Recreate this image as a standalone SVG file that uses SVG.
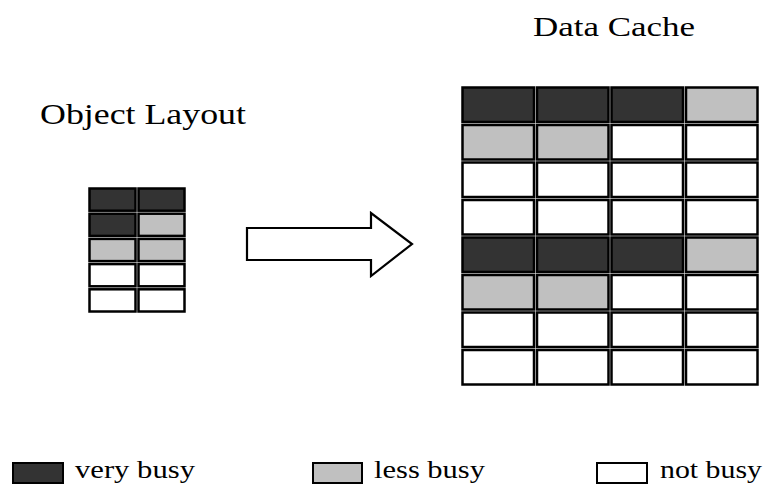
<svg xmlns="http://www.w3.org/2000/svg" width="767" height="487" viewBox="0 0 767 487">
<style>
  .t { font-family: "Liberation Serif", "Times New Roman", serif; fill: #000; }
  .c { stroke: #000; stroke-width: 2.5; }
  .d { fill: #333333; }
  .g { fill: #c0c0c0; }
  .w { fill: #ffffff; }
  .lg { stroke: #000; stroke-width: 2; }
</style>
<rect width="767" height="487" fill="#fff"/>

<g id="object-layout">
  <text class="t" x="40" y="124" font-size="29" textLength="206" lengthAdjust="spacingAndGlyphs">Object Layout</text>
  <g id="obj-grid">
    <rect class="c d" x="89.5" y="188.5" width="46" height="22.2"/>
    <rect class="c d" x="138.5" y="188.5" width="46" height="22.2"/>
    <rect class="c d" x="89.5" y="213.7" width="46" height="22.2"/>
    <rect class="c g" x="138.5" y="213.7" width="46" height="22.2"/>
    <rect class="c g" x="89.5" y="238.9" width="46" height="22.2"/>
    <rect class="c g" x="138.5" y="238.9" width="46" height="22.2"/>
    <rect class="c w" x="89.5" y="264.1" width="46" height="22.2"/>
    <rect class="c w" x="138.5" y="264.1" width="46" height="22.2"/>
    <rect class="c w" x="89.5" y="289.3" width="46" height="22.2"/>
    <rect class="c w" x="138.5" y="289.3" width="46" height="22.2"/>
  </g>
</g>

<g id="connectors">
  <path id="arrow" d="M247,228 L371,228 L371,213 L412,244 L371,276 L371,260 L247,260 Z" fill="#fff" stroke="#000" stroke-width="2.2" stroke-linejoin="miter"/>
</g>

<g id="data-cache">
  <text class="t" x="533" y="36" font-size="27" textLength="162" lengthAdjust="spacingAndGlyphs">Data Cache</text>
  <g id="cache-grid">
    <!-- row 1 -->
    <rect class="c d" x="462.5" y="87.5" width="71.5" height="34.5"/>
    <rect class="c d" x="537" y="87.5" width="71.5" height="34.5"/>
    <rect class="c d" x="611.5" y="87.5" width="71.5" height="34.5"/>
    <rect class="c g" x="686" y="87.5" width="71.5" height="34.5"/>
    <!-- row 2 -->
    <rect class="c g" x="462.5" y="125" width="71.5" height="34.5"/>
    <rect class="c g" x="537" y="125" width="71.5" height="34.5"/>
    <rect class="c w" x="611.5" y="125" width="71.5" height="34.5"/>
    <rect class="c w" x="686" y="125" width="71.5" height="34.5"/>
    <!-- row 3 -->
    <rect class="c w" x="462.5" y="162.5" width="71.5" height="34.5"/>
    <rect class="c w" x="537" y="162.5" width="71.5" height="34.5"/>
    <rect class="c w" x="611.5" y="162.5" width="71.5" height="34.5"/>
    <rect class="c w" x="686" y="162.5" width="71.5" height="34.5"/>
    <!-- row 4 -->
    <rect class="c w" x="462.5" y="200" width="71.5" height="34.5"/>
    <rect class="c w" x="537" y="200" width="71.5" height="34.5"/>
    <rect class="c w" x="611.5" y="200" width="71.5" height="34.5"/>
    <rect class="c w" x="686" y="200" width="71.5" height="34.5"/>
    <!-- row 5 -->
    <rect class="c d" x="462.5" y="237.5" width="71.5" height="34.5"/>
    <rect class="c d" x="537" y="237.5" width="71.5" height="34.5"/>
    <rect class="c d" x="611.5" y="237.5" width="71.5" height="34.5"/>
    <rect class="c g" x="686" y="237.5" width="71.5" height="34.5"/>
    <!-- row 6 -->
    <rect class="c g" x="462.5" y="275" width="71.5" height="34.5"/>
    <rect class="c g" x="537" y="275" width="71.5" height="34.5"/>
    <rect class="c w" x="611.5" y="275" width="71.5" height="34.5"/>
    <rect class="c w" x="686" y="275" width="71.5" height="34.5"/>
    <!-- row 7 -->
    <rect class="c w" x="462.5" y="312.5" width="71.5" height="34.5"/>
    <rect class="c w" x="537" y="312.5" width="71.5" height="34.5"/>
    <rect class="c w" x="611.5" y="312.5" width="71.5" height="34.5"/>
    <rect class="c w" x="686" y="312.5" width="71.5" height="34.5"/>
    <!-- row 8 -->
    <rect class="c w" x="462.5" y="350" width="71.5" height="34.5"/>
    <rect class="c w" x="537" y="350" width="71.5" height="34.5"/>
    <rect class="c w" x="611.5" y="350" width="71.5" height="34.5"/>
    <rect class="c w" x="686" y="350" width="71.5" height="34.5"/>
  </g>
</g>

<g id="legend">
  <g id="legend-very-busy">
    <rect class="lg d" x="13" y="463" width="50" height="20"/>
    <text class="t" x="75" y="478" font-size="25" textLength="120" lengthAdjust="spacingAndGlyphs">very busy</text>
  </g>
  <g id="legend-less-busy">
    <rect class="lg g" x="313" y="463" width="49" height="20"/>
    <text class="t" x="374" y="478" font-size="25" textLength="111" lengthAdjust="spacingAndGlyphs">less busy</text>
  </g>
  <g id="legend-not-busy">
    <rect class="lg w" x="597" y="463" width="50" height="20"/>
    <text class="t" x="660" y="478" font-size="25" textLength="102" lengthAdjust="spacingAndGlyphs">not busy</text>
  </g>
</g>
</svg>
